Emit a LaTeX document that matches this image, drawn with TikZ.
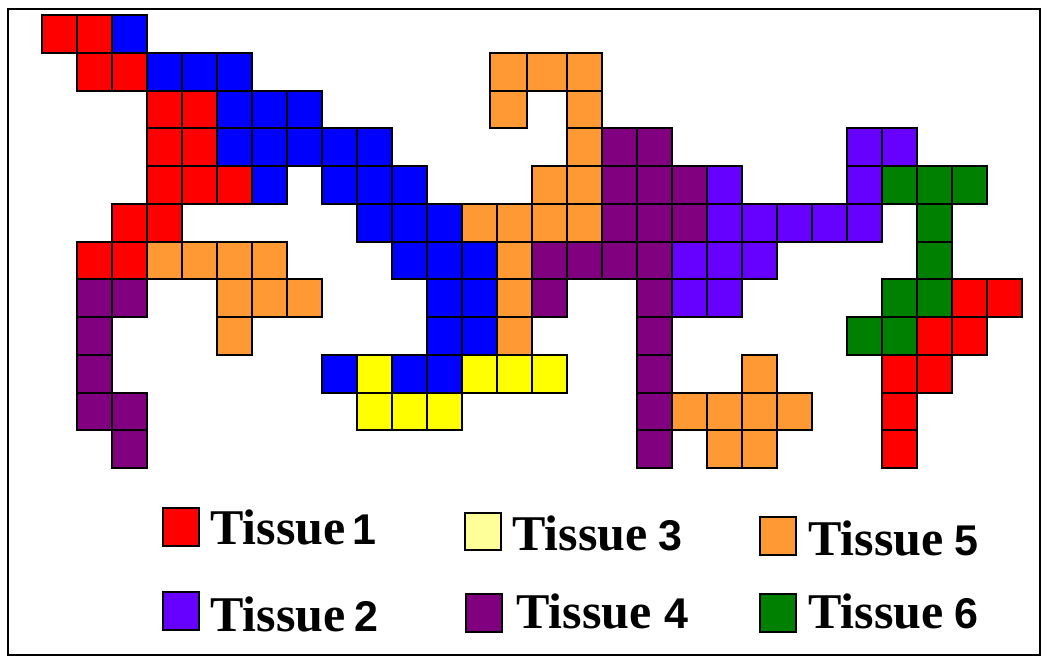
\documentclass[tikz,border=0pt]{standalone}
\usepackage{fontspec}
\setmainfont{Liberation Serif}
\newfontfamily\numfont{Liberation Sans}

\definecolor{tisred}{HTML}{FF0000}
\definecolor{tisblue}{HTML}{0000FF}
\definecolor{tisviolet}{HTML}{6600FF}
\definecolor{tispurple}{HTML}{800080}
\definecolor{tisorange}{HTML}{FF9933}
\definecolor{tisyellow}{HTML}{FFFF00}
\definecolor{tispaleyellow}{HTML}{FFFF99}
\definecolor{tisgreen}{HTML}{008000}

% one grid cell: column c, row r (35 x 37.75 units)
\newcommand\tissuecells[2]{%
  \foreach \c/\r in {#2} {%
    \draw[cell, fill=#1] ({42+35*\c},{15+37.75*\r}) rectangle ++(35,37.75);
  }}

\newcommand\tlabel[2][9pt]{{\bfseries\fontsize{50}{60}\selectfont Tissue\hspace{#1}{\numfont\fontsize{43}{45}\selectfont #2}}}

\begin{document}
\begin{tikzpicture}[x=1pt,y=-1pt,
  cell/.style={draw=black, line width=2pt},
  legbox/.style={draw=black, line width=2pt},
  legtext/.style={anchor=base west, inner sep=0pt}]
\useasboundingbox (0,0) rectangle (1047,662);
\fill[white] (0,0) rectangle (1047,662);
\draw[line width=2.2pt] (8,9) rectangle (1040,655);

% Tissue 1
\tissuecells{tisred}{0/0,1/0,1/1,2/1,3/2,4/2,3/3,4/3,3/4,4/4,5/4,2/5,3/5,1/6,2/6,
  26/7,27/7,25/8,26/8,24/9,25/9,24/10,24/11}
% blue region
\tissuecells{tisblue}{2/0,3/1,4/1,5/1,5/2,6/2,7/2,5/3,6/3,7/3,8/3,9/3,6/4,8/4,9/4,10/4,
  9/5,10/5,11/5,10/6,11/6,12/6,11/7,12/7,11/8,12/8,8/9,10/9,11/9}
% Tissue 2
\tissuecells{tisviolet}{23/3,24/3,19/4,23/4,19/5,20/5,21/5,22/5,23/5,18/6,19/6,20/6,18/7,19/7}
% Tissue 4
\tissuecells{tispurple}{16/3,17/3,16/4,17/4,18/4,16/5,17/5,18/5,14/6,15/6,16/6,17/6,
  1/7,2/7,14/7,17/7,1/8,17/8,1/9,17/9,1/10,2/10,17/10,2/11,17/11}
% Tissue 5
\tissuecells{tisorange}{15/1,15/2,15/3,14/4,15/4,12/5,13/5,14/5,15/5,3/6,4/6,5/6,6/6,13/6,
  5/7,6/7,7/7,13/7,5/8,13/8,20/9,18/10,19/10,20/10,21/10,19/11,20/11}
\draw[cell, fill=tisorange] (490,52.75) rectangle (527,90.5);
\draw[cell, fill=tisorange] (527,52.75) rectangle (567,90.5);
\draw[cell, fill=tisorange] (490,90.5) rectangle (527,128.25);
% Tissue 3
\tissuecells{tisyellow}{9/9,12/9,13/9,14/9,9/10,10/10,11/10}
% Tissue 6
\tissuecells{tisgreen}{24/4,25/4,26/4,25/5,25/6,24/7,25/7,23/8,24/8}

% legend
\draw[legbox, fill=tisred] (163,508) rectangle (199,546);
\node[legtext] (leg1) at (210,544) {\tlabel[7pt]{1}};
\draw[legbox, fill=tisviolet] (163,592) rectangle (199,630);
\node[legtext] (leg2) at (210,631) {\tlabel{2}};
\draw[legbox, fill=tispaleyellow] (465,513) rectangle (501,550);
\node[legtext] (leg3) at (512,550) {\tlabel[11pt]{3}};
\draw[legbox, fill=tispurple] (466,594) rectangle (502,632);
\node[legtext] (leg4) at (516,628) {\tlabel[13pt]{4}};
\draw[legbox, fill=tisorange] (760,517) rectangle (796,555);
\node[legtext] (leg5) at (808,555) {\tlabel[11pt]{5}};
\draw[legbox, fill=tisgreen] (760,594) rectangle (796,632);
\node[legtext] (leg6) at (808,628) {\tlabel[11pt]{6}};
\end{tikzpicture}
\end{document}
